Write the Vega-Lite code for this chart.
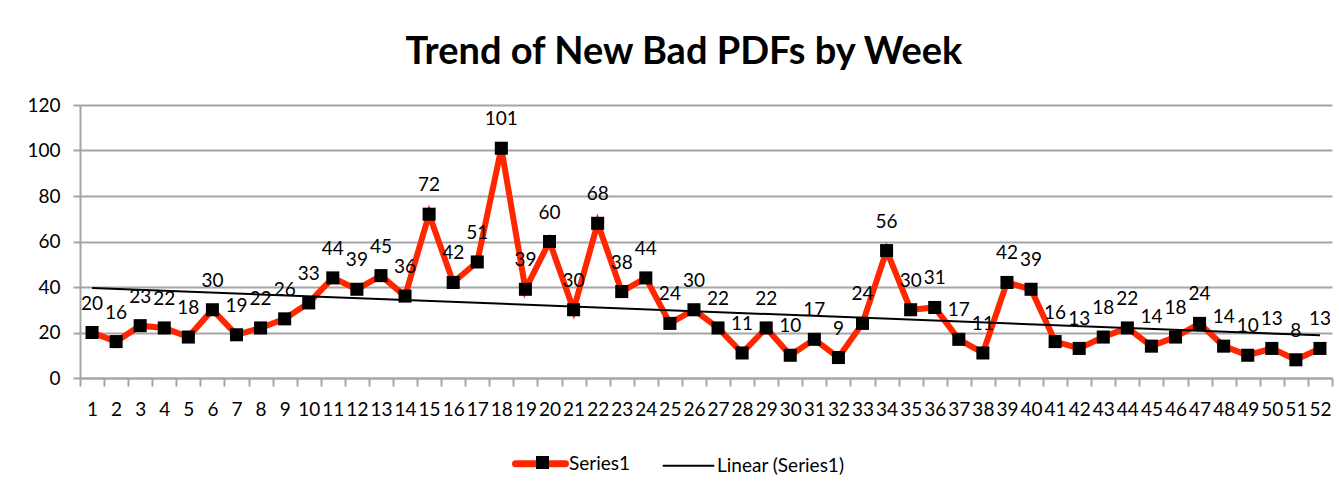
{
  "$schema": "https://vega.github.io/schema/vega-lite/v6.json",
  "autosize": "none",
  "width": 1252,
  "height": 273,
  "padding": {"left": 80, "top": 105, "right": 7, "bottom": 114},
  "background": "white",
  "config": {
    "font": "Lato",
    "view": {"stroke": null},
    "axis": {"labelFont": "Lato", "labelFontSize": 19, "labelColor": "black"}
  },
  "title": {
    "text": "Trend of New Bad PDFs by Week",
    "font": "Lato",
    "fontSize": 38,
    "fontWeight": "bold",
    "color": "black",
    "anchor": "middle",
    "dx": -22,
    "offset": 24
  },
  "data": {
    "values": [
      {"week": 1, "count": 20}, {"week": 2, "count": 16}, {"week": 3, "count": 23}, {"week": 4, "count": 22},
      {"week": 5, "count": 18}, {"week": 6, "count": 30}, {"week": 7, "count": 19}, {"week": 8, "count": 22},
      {"week": 9, "count": 26}, {"week": 10, "count": 33}, {"week": 11, "count": 44}, {"week": 12, "count": 39},
      {"week": 13, "count": 45}, {"week": 14, "count": 36}, {"week": 15, "count": 72}, {"week": 16, "count": 42},
      {"week": 17, "count": 51}, {"week": 18, "count": 101}, {"week": 19, "count": 39}, {"week": 20, "count": 60},
      {"week": 21, "count": 30}, {"week": 22, "count": 68}, {"week": 23, "count": 38}, {"week": 24, "count": 44},
      {"week": 25, "count": 24}, {"week": 26, "count": 30}, {"week": 27, "count": 22}, {"week": 28, "count": 11},
      {"week": 29, "count": 22}, {"week": 30, "count": 10}, {"week": 31, "count": 17}, {"week": 32, "count": 9},
      {"week": 33, "count": 24}, {"week": 34, "count": 56}, {"week": 35, "count": 30}, {"week": 36, "count": 31},
      {"week": 37, "count": 17}, {"week": 38, "count": 11}, {"week": 39, "count": 42}, {"week": 40, "count": 39},
      {"week": 41, "count": 16}, {"week": 42, "count": 13}, {"week": 43, "count": 18}, {"week": 44, "count": 22},
      {"week": 45, "count": 14}, {"week": 46, "count": 18}, {"week": 47, "count": 24}, {"week": 48, "count": 14},
      {"week": 49, "count": 10}, {"week": 50, "count": 13}, {"week": 51, "count": 8}, {"week": 52, "count": 13}
    ]
  },
  "encoding": {
    "x": {
      "field": "week",
      "type": "ordinal",
      "scale": {"type": "band", "paddingInner": 0, "paddingOuter": 0},
      "axis": {
        "title": null,
        "labelAngle": 0,
        "tickBand": "extent",
        "tickSize": 8,
        "tickWidth": 2,
        "tickColor": "#a6a6a6",
        "domainColor": "#a6a6a6",
        "domainWidth": 2,
        "labelPadding": 14,
        "labelOverlap": false,
        "labelBound": false,
        "grid": false
      }
    },
    "y": {
      "field": "count",
      "type": "quantitative",
      "scale": {"domain": [0, 120]},
      "axis": {
        "title": null,
        "values": [0, 20, 40, 60, 80, 100, 120],
        "tickSize": 7,
        "tickWidth": 2,
        "tickColor": "#a6a6a6",
        "domainColor": "#a6a6a6",
        "domainWidth": 2,
        "gridColor": "#a6a6a6",
        "gridWidth": 2,
        "labelPadding": 13
      }
    }
  },
  "layer": [
    {
      "mark": {"type": "line", "strokeWidth": 6, "strokeJoin": "miter"},
      "encoding": {
        "color": {
          "datum": "Series1",
          "type": "nominal",
          "scale": {"domain": ["Series1", "Linear (Series1)"], "range": ["#ff2600", "black"]},
          "legend": {
            "title": null,
            "orient": "none",
            "direction": "horizontal",
            "legendX": 451,
            "legendY": 349,
            "symbolType": "stroke",
            "symbolSize": 2500,
            "symbolStrokeWidth": 4,
            "labelFont": "Lato",
            "labelFontSize": 19,
            "labelColor": "black",
            "labelOffset": 19,
            "columnPadding": 28,
            "encode": {
              "symbols": {"update": {"strokeWidth": {"signal": "datum.value === 'Series1' ? 7 : 2"}, "strokeCap": {"value": "round"}}}
            }
          }
        }
      }
    },
    {
      "mark": {"type": "point", "filled": true, "color": "black", "opacity": 1, "size": 170},
      "encoding": {
        "shape": {
          "datum": "Series1",
          "type": "nominal",
          "scale": {"domain": ["Series1"], "range": ["square"]},
          "legend": {
            "title": null,
            "orient": "none",
            "legendX": 455,
            "legendY": 350,
            "symbolSize": 170,
            "symbolFillColor": "black",
            "symbolStrokeColor": "black",
            "labelExpr": "''"
          }
        }
      }
    },
    {
      "transform": [{"regression": "count", "on": "week", "extent": [1, 52]}],
      "mark": {"type": "line", "strokeWidth": 2},
      "encoding": {"color": {"datum": "Linear (Series1)", "type": "nominal"}}
    },
    {
      "mark": {"type": "text", "dy": -29, "fontSize": 19, "font": "Lato", "color": "black"},
      "encoding": {"text": {"field": "count", "type": "quantitative"}}
    }
  ]
}
